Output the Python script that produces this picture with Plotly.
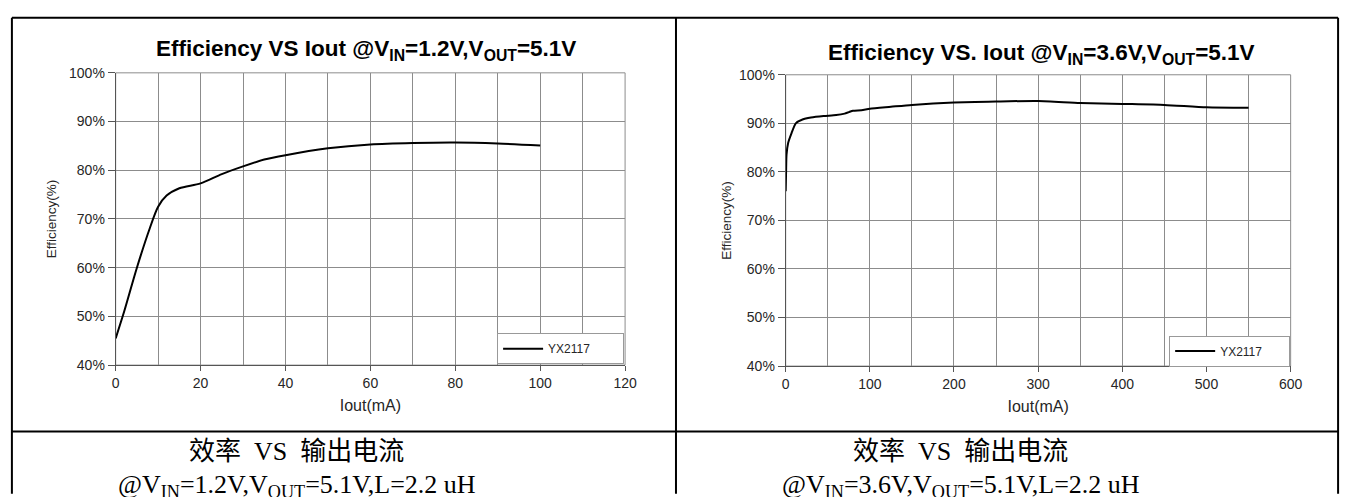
import plotly.graph_objects as go

W, H = 1357, 497

# ---- data ----
left_iout = [0, 2, 5, 8, 10, 12, 15, 20, 25, 30, 35, 40, 50, 60, 70, 80, 90, 100]
left_eff = [45.5, 51, 60, 68, 72.5, 74.8, 76.3, 77.3, 79.2, 80.8, 82.2, 83.1, 84.5, 85.3, 85.6, 85.7, 85.5, 85.1]

right_iout = [0, 0.5, 1, 3, 7, 12, 20, 30, 45, 60, 70, 75, 80, 90, 100, 125, 150, 200, 250, 300, 350, 400, 450, 500, 550]
right_eff = [76, 80, 83.5, 86, 88, 90, 90.8, 91.2, 91.5, 91.7, 92, 92.3, 92.6, 92.7, 93, 93.4, 93.8, 94.3, 94.5, 94.6, 94.2, 94.0, 93.8, 93.3, 93.2]

series_name = "YX2117"
left_title = "Efficiency VS Iout @V<sub>IN</sub>=1.2V,V<sub>OUT</sub>=5.1V"
right_title = "Efficiency VS. Iout @V<sub>IN</sub>=3.6V,V<sub>OUT</sub>=5.1V"
x_title = "Iout(mA)"
y_title = "Efficiency(%)"
cap1 = "效率  VS  输出电流"
left_cap2 = "@V<sub>IN</sub>=1.2V,V<sub>OUT</sub>=5.1V,L=2.2 uH"
right_cap2 = "@V<sub>IN</sub>=3.6V,V<sub>OUT</sub>=5.1V,L=2.2 uH"

def px(x):
    return x / W

def py(y):
    return 1 - y / H

FONT = "Liberation Sans, Arial, sans-serif"
GRID = "#8c8c8c"
AXIS = "#555555"
TXT = "#262626"
TICKF = dict(family=FONT, size=14, color=TXT)

fig = go.Figure()
fig.add_trace(go.Scatter(x=left_iout, y=left_eff, mode="lines", name=series_name,
                         line=dict(color="black", width=2, shape="spline", smoothing=0.8),
                         xaxis="x", yaxis="y", legend="legend", showlegend=True))
fig.add_trace(go.Scatter(x=right_iout, y=right_eff, mode="lines", name=series_name,
                         line=dict(color="black", width=2, shape="spline", smoothing=0.6),
                         xaxis="x2", yaxis="y2", legend="legend2", showlegend=True))

def xaxis(domain, rng, dtick, minor, anchor):
    return dict(domain=domain, range=rng, dtick=dtick, tick0=0, anchor=anchor,
                showgrid=True, gridcolor=GRID, gridwidth=1,
                minor=dict(dtick=minor, tick0=0, showgrid=True, gridcolor=GRID, gridwidth=1, ticks=""),
                showline=True, linecolor=AXIS, linewidth=1, ticks="outside", ticklen=5, tickcolor=AXIS,
                tickfont=TICKF, zeroline=False,
                title=dict(text=x_title, font=dict(family=FONT, size=16, color=TXT), standoff=9))

def yaxis(domain, anchor, standoff):
    return dict(domain=domain, range=[40, 100], dtick=10, tick0=0, anchor=anchor,
                ticksuffix="%", showgrid=True, gridcolor=GRID, gridwidth=1,
                showline=True, linecolor=AXIS, linewidth=1, ticks="outside", ticklen=7, tickcolor=AXIS,
                tickfont=TICKF, zeroline=False,
                title=dict(text=y_title, font=dict(family=FONT, size=13.5, color=TXT), standoff=standoff))

LEGF = dict(family=FONT, size=12, color=TXT)
fig.update_layout(
    autosize=True, margin=dict(l=0, r=0, t=0, b=0),
    paper_bgcolor="white", plot_bgcolor="white", showlegend=True,
    xaxis=xaxis([px(113), px(628.5)], [0, 120], 20, 10, "y"),
    yaxis=yaxis([py(369), py(67)], "x", 9),
    xaxis2=xaxis([px(791), px(1302)], [0, 600], 100, 50, "y2"),
    yaxis2=yaxis([py(370), py(69)], "x2", 4),
    legend=dict(x=px(627.5), y=py(368), xanchor="right", yanchor="bottom", orientation="h",
                bgcolor="white", bordercolor="#999999", borderwidth=1,
                font=LEGF, entrywidth=70, itemwidth=40),
    legend2=dict(x=px(1301.5), y=py(370.5), xanchor="right", yanchor="bottom", orientation="h",
                 bgcolor="white", bordercolor="#999999", borderwidth=1,
                 font=LEGF, entrywidth=64, itemwidth=40),
)

# plot-area border (top/right)
for xr, yr in (("x domain", "y domain"), ("x2 domain", "y2 domain")):
    fig.add_shape(type="rect", xref=xr, yref=yr, x0=0, y0=0, x1=1, y1=1,
                  line=dict(color=GRID, width=1), layer="below")

# outer table frame
frame = dict(color="black", width=2)
fig.add_shape(type="line", xref="paper", yref="paper", x0=px(8), x1=px(1350), y0=py(10), y1=py(10), line=frame)
fig.add_shape(type="line", xref="paper", yref="paper", x0=px(8), x1=px(8), y0=py(10), y1=-0.01, line=frame)
fig.add_shape(type="line", xref="paper", yref="paper", x0=px(1350), x1=px(1350), y0=py(10), y1=-0.01, line=frame)
fig.add_shape(type="line", xref="paper", yref="paper", x0=px(680), x1=px(680), y0=py(10), y1=-0.01, line=frame)
fig.add_shape(type="line", xref="paper", yref="paper", x0=px(8), x1=px(1350), y0=py(437.5), y1=py(437.5), line=frame)

TITLEF = dict(family=FONT, size=22.5, color="black")
fig.add_annotation(text="<b>" + left_title + "</b>", x=px(366), y=py(43), xref="paper", yref="paper",
                   showarrow=False, font=TITLEF, xanchor="center", yanchor="middle")
fig.add_annotation(text="<b>" + right_title + "</b>", x=px(1050), y=py(48), xref="paper", yref="paper",
                   showarrow=False, font=TITLEF, xanchor="center", yanchor="middle")

CAPF = dict(family="Liberation Serif, Noto Sans CJK SC, serif", size=26, color="black")
for cx, c2 in ((296, left_cap2), (968, right_cap2)):
    fig.add_annotation(text=cap1, x=px(cx), y=py(458), xref="paper", yref="paper",
                       showarrow=False, font=CAPF, xanchor="center", yanchor="middle")
    fig.add_annotation(text=c2, x=px(cx), y=py(494), xref="paper", yref="paper",
                       showarrow=False, font=CAPF, xanchor="center", yanchor="middle")

post = """
var s=document.createElement('style');
s.textContent='html,body{margin:0;padding:0;overflow:hidden;width:100%;height:100%;}';
document.head.appendChild(s);
var gd=document.getElementsByClassName('plotly-graph-div')[0];
gd.style.width='100vw'; gd.style.height='100vh';
Plotly.relayout(gd,{width:window.innerWidth,height:window.innerHeight});
"""

fig.write_html("out.html", config={"responsive": True, "displayModeBar": False},
               default_width="100vw", default_height="100vh", post_script=post)
